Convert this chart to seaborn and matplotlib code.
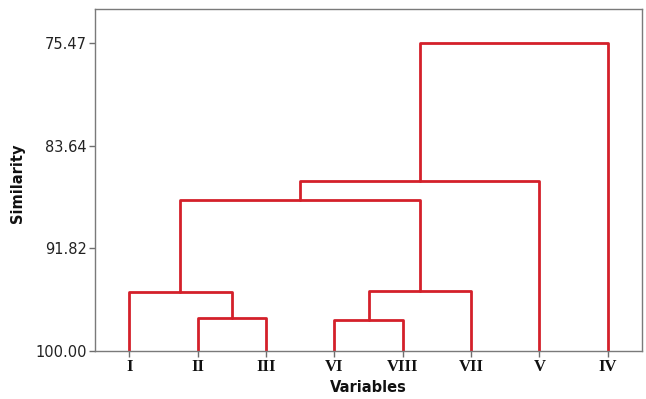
import numpy as np
import pandas as pd
import matplotlib
matplotlib.use("Agg")
import matplotlib.pyplot as plt
import seaborn as sns

# ---- data ----
leaves = ["I", "II", "III", "VI", "VIII", "VII", "V", "IV"]
# cluster ids: 0..7 leaves, 8.. new clusters in merge order
merge_left = [1, 3, 0, 9, 10, 12, 13]
merge_right = [2, 4, 8, 5, 11, 6, 7]
similarity = [97.37, 97.53, 95.29, 95.18, 87.95, 86.46, 75.47]
y_ticks = [75.47, 83.64, 91.82, 100.00]

# ---- build dendrogram segments ----
n = len(leaves)
pos = {i: (float(i), 100.0) for i in range(n)}
rows = []
for k, (a, b, h) in enumerate(zip(merge_left, merge_right, similarity)):
    xa, ha = pos[a]
    xb, hb = pos[b]
    for (x, y) in [(xa, ha), (xa, h), (xb, h), (xb, hb)]:
        rows.append({"x": x, "y": y, "seg": k})
    pos[n + k] = ((xa + xb) / 2.0, h)
df = pd.DataFrame(rows)

sns.set_style("white")
plt.rcParams["font.family"] = ["DejaVu Sans"]

fig = plt.figure(figsize=(6.46, 3.99), dpi=100)
ax = fig.add_axes([95 / 646, 1 - 351 / 399, (642 - 95) / 646, (351 - 9) / 399])

sns.lineplot(data=df, x="x", y="y", units="seg", estimator=None, sort=False,
             color="#d4202a", linewidth=2.0, ax=ax, legend=False)

ax.set_xlim(-0.5, n - 0.5)
ax.set_ylim(100.0, 72.73)
ax.set_xticks(range(n))
ax.set_xticklabels(leaves, family="Liberation Serif", fontsize=12, fontweight="bold",
                   color="#111111")
ax.set_yticks(y_ticks)
ax.set_yticklabels([f"{v:.2f}" for v in y_ticks], fontsize=10.5, color="#222222")
ax.tick_params(axis="both", which="both", bottom=True, left=True, direction="out",
               length=4, width=1, color="#6e6e6e", pad=2)
ax.tick_params(axis="x", pad=2)
for s in ax.spines.values():
    s.set_color("#7a7a7a")
    s.set_linewidth(1.0)
ax.set_xlabel("Variables", fontsize=10.5, fontweight="bold", labelpad=3, color="#111111")
ax.set_ylabel("Similarity", fontsize=10.5, fontweight="bold", color="#111111")
ax.yaxis.set_label_coords(-0.128, 0.49)

fig.savefig("out.png", dpi=100)
